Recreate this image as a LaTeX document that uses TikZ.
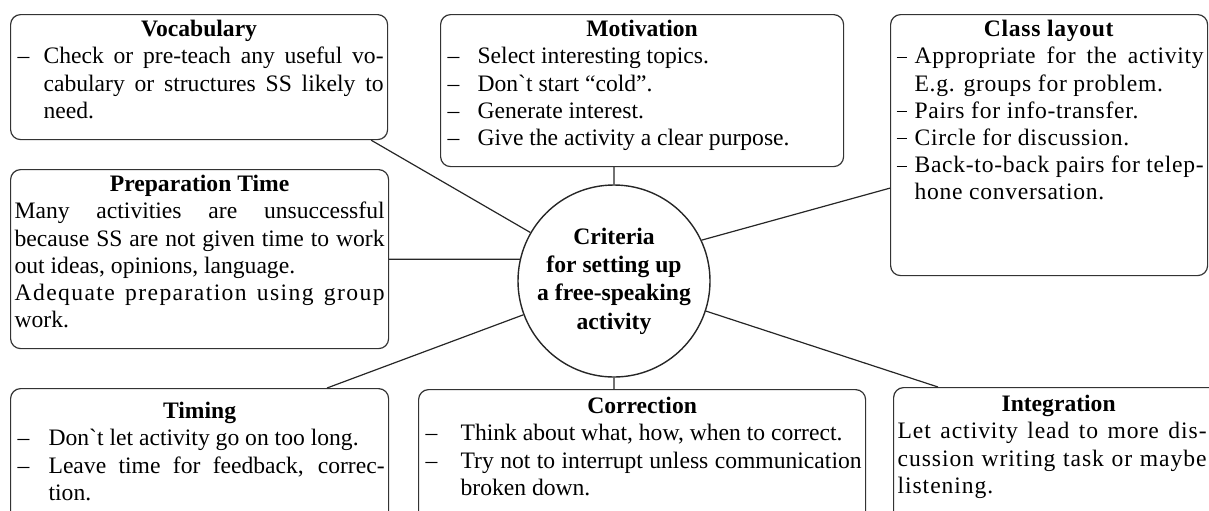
\documentclass[tikz,border=0pt]{standalone}
\usepackage{fontspec}
\setmainfont{Liberation Serif}
\newfontfamily\spacedthree[LetterSpace=3]{Liberation Serif}
\newfontfamily\spacedfour[LetterSpace=4]{Liberation Serif}
\newfontfamily\spacedsix[LetterSpace=6]{Liberation Serif}
\usetikzlibrary{calc}

% box contents: width and height in px of the picture
\newcommand{\boxtext}[3]{\parbox[c][\dimexpr#2pt/2-3pt\relax][t]{\dimexpr#1pt/2-4pt\relax}{\hyphenpenalty=10000 \exhyphenpenalty=10000 #3}}
\newcommand{\boxtitle}[1]{{\centering\strut\textbf{#1}\par}}
\newcommand{\bul}[2][16pt]{\par\noindent\hangindent=#1\hangafter=1\makebox[#1][l]{\hspace{1.5pt}\textendash}#2}
\newcommand{\mbul}[1]{\par\noindent\hangindent=10pt\hangafter=1\makebox[10pt][l]{\hspace{1pt}\rule[3pt]{5pt}{0.55pt}}#1}

\begin{document}
\begin{tikzpicture}[x=0.5pt,y=-0.5pt,
    font=\fontsize{11.8pt}{13.6pt}\selectfont,
    box/.style={draw=black!80,line width=0.6pt,rounded corners=5pt,
      inner xsep=2pt,inner ysep=1.5pt,anchor=north west},
    hub/.style={draw=black!85,line width=0.7pt,circle,minimum size=96pt,
      inner sep=0pt,align=center,font=\fontsize{11.8pt}{14.2pt}\selectfont\bfseries},
    link/.style={draw=black!85,line width=0.6pt}]
  \useasboundingbox (0,0) rectangle (1209,510);

  \node[hub](ctr) at (614,281) {Criteria\\for setting up\\a free-speaking\\activity};

  \node[box](voc) at (10,14) {\boxtext{377}{125}{\boxtitle{Vocabulary}%
    \bul[14.5pt]{Check or pre-teach any useful vo-\linebreak cabulary or structures SS likely to\linebreak need.}}};
  \node[box](mot) at (440,14) {\boxtext{403}{152}{\boxtitle{Motivation}%
    \bul[16.5pt]{Select interesting topics.}%
    \bul[16.5pt]{Don\textasciigrave t start “cold”.}%
    \bul[16.5pt]{Generate interest.}%
    \bul[16.5pt]{Give the activity a clear purpose.}}};
  \node[box](cls) at (890,14) {\boxtext{317}{261}{\spacedthree\boxtitle{Class layout}%
    \mbul{Appropriate for the activity\linebreak E.g. groups for problem.}%
    \mbul{Pairs for info-transfer.}%
    \mbul{Circle for discussion.}%
    \mbul{Back-to-back pairs for telep-\linebreak hone conversation.}}};
  \node[box](prep) at (10,169) {\boxtext{378}{179}{\boxtitle{Preparation Time}%
    Many activities are unsuccessful\linebreak because SS are not given time to work\linebreak out ideas, opinions, language.\par
    {\spacedsix Adequate preparation using group}\linebreak work.}};
  \node[box](tim) at (10,388) {\boxtext{378}{160}{\vspace*{4pt}\boxtitle{Timing}%
    \bul[17pt]{Don\textasciigrave t let activity go on too long.}%
    \bul[17pt]{Leave time for feedback, correc-\linebreak tion.}}};
  \node[box](cor) at (418,389) {\boxtext{447}{160}{\vspace*{1pt}\boxtitle{Correction}%
    \bul[19pt]{Think about what, how, when to correct.}%
    \bul[19pt]{Try not to interrupt unless communication\linebreak broken down.}}};
  \node[box](int) at (893,387) {\boxtext{330}{160}{\vspace*{1pt}\boxtitle{Integration}%
    \rightskip=6.5pt\spacedfour Let activity lead to more dis-\linebreak cussion writing task or maybe\linebreak listening.}};

  \path[link] (ctr) -- ($(voc.south east)+(-17,0)$)
              (ctr.north) -- (ctr.north |- mot.south)
              (ctr.25) -- ($(cls.west)+(0,43)$)
              (ctr.167) -- (ctr.167 -| prep.east)
              (ctr) -- ($(tim.north west)+(317,0)$)
              (ctr.south) -- (ctr.south |- cor.north)
              (ctr) -- ($(int.north west)+(45,0)$);
\end{tikzpicture}
\end{document}
